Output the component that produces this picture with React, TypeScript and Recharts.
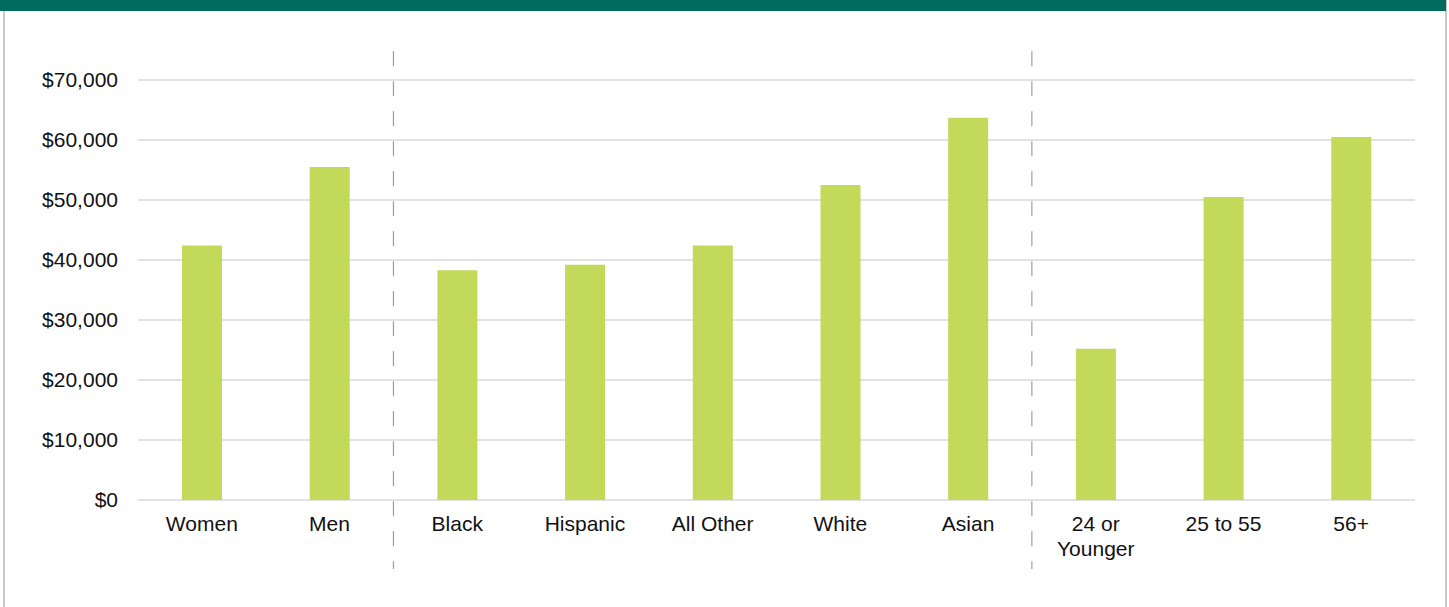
import React from 'react'
import {
  BarChart,
  Bar,
  XAxis,
  YAxis,
  CartesianGrid,
  ReferenceLine,
} from 'recharts'

// categories grouped: gender | race | age
const categories = [
  'Women',
  'Men',
  'Black',
  'Hispanic',
  'All Other',
  'White',
  'Asian',
  '24 or Younger',
  '25 to 55',
  '56+',
]
const medianValues = [42400, 55500, 38300, 39200, 42400, 52500, 63700, 25200, 50500, 60500]
const yTicks = [0, 10000, 20000, 30000, 40000, 50000, 60000, 70000]
const groupEnds = ['Men', 'Asian']
// how the long category label breaks onto two lines
const wrappedLabels: Record<string, string[]> = {
  '24 or Younger': ['24 or', 'Younger'],
}

const data = categories.map((name, i) => ({ name, value: medianValues[i] }))

const FONT = 'Liberation Sans, Arial, sans-serif'
const TEXT = '#111'

const fmtMoney = (v: number) => '$' + v.toLocaleString('en-US')

function CategoryTick(props: any) {
  const { x, y, payload } = props
  const lines = wrappedLabels[payload.value] || [payload.value]
  return (
    <text
      x={x}
      y={y}
      textAnchor="middle"
      fontSize={21}
      fontFamily={FONT}
      fill={TEXT}
    >
      {lines.map((l, i) => (
        <tspan key={i} x={x} dy={i === 0 ? '0.71em' : 25}>
          {l}
        </tspan>
      ))}
    </text>
  )
}

export default function App() {
  return (
    <div
      style={{
        position: 'absolute',
        left: 0,
        top: 0,
        width: 1449,
        height: 607,
        background: '#fff',
        overflow: 'hidden',
      }}
    >
      {/* frame */}
      <div
        style={{
          position: 'absolute',
          left: 3,
          top: 0,
          width: 1440,
          height: 620,
          borderLeft: '2px solid #c8c8c8',
          borderRight: '2px solid #c8c8c8',
        }}
      />
      <div
        style={{
          position: 'absolute',
          left: 0,
          top: 0,
          width: 1446,
          height: 11,
          background: '#016b5f',
        }}
      />
      <div style={{ position: 'absolute', left: 0, top: 0 }}>
        <BarChart
          width={1449}
          height={607}
          data={data}
          margin={{ top: 80, right: 34, bottom: 47, left: 0 }}
        >
          <CartesianGrid vertical={false} stroke="#d9d9d9" strokeWidth={1.5} />
          <XAxis
            dataKey="name"
            height={60}
            axisLine={false}
            tickLine={false}
            tickSize={0}
            tickMargin={16}
            interval={0}
            tick={<CategoryTick />}
          />
          <YAxis
            width={138}
            domain={[0, 70000]}
            ticks={yTicks}
            axisLine={false}
            tickLine={false}
            tickSize={0}
            tickMargin={20}
            tickFormatter={fmtMoney}
            tick={{ fontSize: 21, fontFamily: FONT, fill: TEXT }}
          />
          <Bar dataKey="value" fill="#c2d95a" barSize={40} isAnimationActive={false} />
          {groupEnds.map((g) => (
            <ReferenceLine
              key={g}
              segment={[
                { x: g, y: 74800 },
                { x: g, y: -11500 },
              ]}
              position="end"
              ifOverflow="visible"
              stroke="#8c8c8c"
              strokeWidth={1}
              strokeDasharray="15 15"
            />
          ))}
        </BarChart>
      </div>
    </div>
  )
}
